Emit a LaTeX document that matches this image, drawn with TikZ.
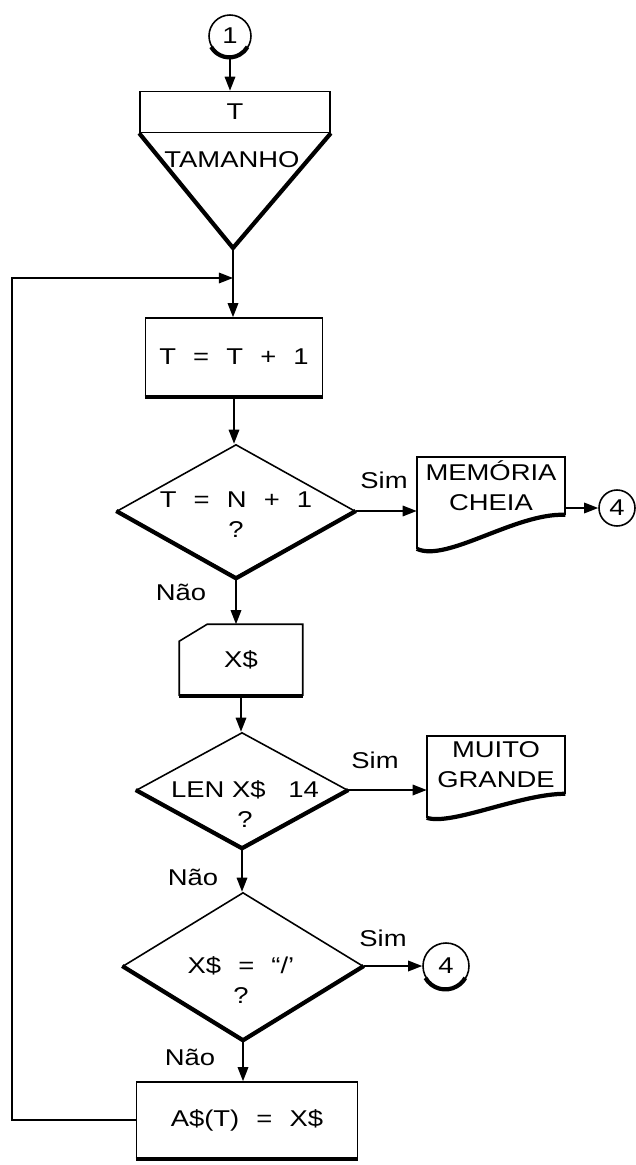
\documentclass[tikz,border=0pt]{standalone}
\usepackage{fontspec}
\setmainfont{Liberation Sans}[FakeStretch=1.2]
\usetikzlibrary{shapes.geometric,arrows.meta}
\newcommand\fgap{\hspace{.75em}}

\begin{document}
\begin{tikzpicture}[x=0.02cm,y=-0.02cm,line width=0.9pt,
    every node/.style={font=\fontsize{13}{17}\selectfont},
    proc/.style={draw,rectangle,inner sep=0pt},
    dec/.style={draw,diamond,inner sep=0pt},
    frame/.style={rectangle,inner sep=0pt,align=center},
    conn/.style={draw,circle,inner sep=0pt},
    txt/.style={align=center,inner sep=1pt},
    shd/.style={line width=2.4pt},
    arr/.style={-{Triangle[length=8pt,width=6pt]}}]
    \useasboundingbox (0,0) rectangle (635,1165);

    \node[conn,minimum size=0.84cm] (c1) at (230,36) {1};
    \node[proc,minimum width=3.8cm,minimum height=0.82cm] (hdr) at (235,112) {T};
    \coordinate (apex) at (233,248);
    \node[txt] (tam) at (232,160) {TAMANHO};
    \coordinate (mrg) at (233,278);
    \coordinate (lp) at (12,278);
    \node[proc,minimum width=3.54cm,minimum height=1.56cm] (inc) at (234,357) {T\fgap=\fgap T\fgap+\fgap1};
    \node[dec,minimum width=4.76cm,minimum height=2.66cm] (d1) at (236,511) {};
    \node[txt] (d1t) at (236,515) {T\fgap=\fgap N\fgap+\fgap1\\?};
    \node[frame,minimum width=2.94cm,minimum height=1.12cm] (mem) at (491,486) {MEMÓRIA\\CHEIA};
    \node[conn,minimum size=0.72cm] (c4a) at (617,508) {4};
    \node[frame,minimum width=2.44cm,minimum height=1.4cm] (xs) at (241,660) {X\$};
    \node[dec,minimum width=4.22cm,minimum height=2.3cm] (d2) at (242,790) {};
    \node[txt] (d2t) at (245,804) {LEN X\$\quad 14\\?};
    \node[frame,minimum width=2.74cm,minimum height=1.12cm] (mg) at (496,765) {MUITO\\GRANDE};
    \node[dec,minimum width=4.8cm,minimum height=2.94cm] (d3) at (243,966) {};
    \node[txt] (d3t) at (241,980) {X\$\fgap=\fgap``/'\\?};
    \node[conn,minimum size=0.92cm] (c4b) at (446,966) {4};
    \node[proc,minimum width=4.42cm,minimum height=1.52cm] (asg) at (247,1120) {A\$(T)\fgap=\fgap X\$};

    \node (sim1) at (384,480) {Sim};
    \node (nao1) at (181,592) {Não};
    \node (sim2) at (375,760) {Sim};
    \node (nao2) at (193,877) {Não};
    \node (sim3) at (383,938) {Sim};
    \node (nao3) at (190,1057) {Não};

    \draw (hdr.south west) -- (apex) -- (hdr.south east);
    \draw[shd] (hdr.south west) -- (apex) -- (hdr.south east);
    \draw (mem.south east) -- (mem.north east) -- (mem.north west) -- ([shift={(0,34)}]mem.south west);
    \draw[shd] ([shift={(0,34)}]mem.south west) .. controls +(30,14) and +(-50,-2) .. (mem.south east);
    \draw (mg.south east) -- (mg.north east) -- (mg.north west) -- ([shift={(0,24)}]mg.south west);
    \draw[shd] ([shift={(0,24)}]mg.south west) .. controls +(25,8) and +(-45,0) .. (mg.south east);
    \draw (xs.south east) -- (xs.north east) -- ([shift={(28,0)}]xs.north west) -- ([shift={(0,17)}]xs.north west) -- (xs.south west);
    \draw[shd] (xs.south west) -- (xs.south east);
    \draw[shd] (inc.south west) -- (inc.south east);
    \draw[shd] (asg.south west) -- (asg.south east);
    \draw[shd] (d1.west) -- (d1.south) -- (d1.east);
    \draw[shd] (d2.west) -- (d2.south) -- (d2.east);
    \draw[shd] (d3.west) -- (d3.south) -- (d3.east);
    \draw[shd] (c1.-150) arc[start angle=-150,end angle=-30,radius=0.42cm];
    \draw[shd] (c4b.-150) arc[start angle=-150,end angle=-30,radius=0.46cm];

    \draw[arr] (c1.south) -- (c1.south |- hdr.north);
    \draw (apex) -- (mrg);
    \draw[arr] (mrg) -- (mrg |- inc.north);
    \draw[arr] (inc.south) -- (inc.south |- d1.north);
    \draw[arr] (d1.east) -- (d1.east -| mem.west);
    \draw[arr] (mem.east |- c4a) -- (c4a.west);
    \draw[arr] (d1.south) -- (d1.south |- xs.north);
    \draw[arr] (xs.south) -- (xs.south |- d2.north);
    \draw[arr] (d2.east) -- (d2.east -| mg.west);
    \draw[arr] (d2.south) -- (d2.south |- d3.north);
    \draw[arr] (d3.east) -- (c4b.west);
    \draw[arr] (d3.south) -- (d3.south |- asg.north);
    \draw[arr] (asg.west) -- (asg.west -| lp) -- (lp) -- (mrg);

\end{tikzpicture}
\end{document}
